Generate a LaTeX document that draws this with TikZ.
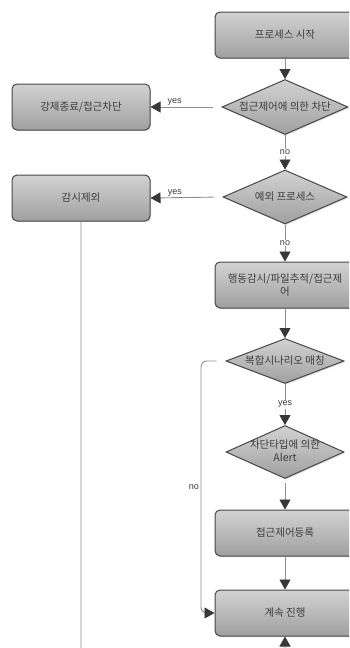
\documentclass[tikz,border=0pt]{standalone}
\usepackage{fontspec}
\setmainfont{Liberation Sans}
\newfontfamily\kr{Noto Sans CJK KR}
\usetikzlibrary{arrows.meta,shapes.geometric,shadows}
\definecolor{Edge}{HTML}{474747}
\definecolor{BoxTop}{HTML}{D2D2D2}
\definecolor{BoxBottom}{HTML}{A0A0A0}
\definecolor{Wire}{HTML}{8E8E8E}
\definecolor{Tip}{HTML}{383838}
\definecolor{Label}{HTML}{3C3C3C}
\tikzset{
  stepbox/.style={rectangle, rounded corners=5pt, draw=Edge, line width=1pt,
    top color=BoxTop, bottom color=BoxBottom, minimum width=140pt,
    minimum height=46pt, inner sep=0pt, align=center, text=Label,
    font=\kr\fontsize{10.5}{13}\selectfont,
    drop shadow={opacity=0.25, shadow xshift=1.2pt, shadow yshift=-1.2pt}},
  test/.style={diamond, draw=Edge, line width=1pt, top color=BoxTop,
    bottom color=BoxBottom, inner sep=0pt, align=center, text=Label,
    font=\kr\fontsize{10.5}{13}\selectfont,
    drop shadow={opacity=0.25, shadow xshift=1.2pt, shadow yshift=-1.2pt}},
  wire/.style={draw=Wire, line width=0.9pt,
    -{Triangle[length=10pt,width=11pt,color=Tip]}},
  flag/.style={font=\fontsize{9}{10}\selectfont, text=Label, inner sep=1pt},
}

\begin{document}
\begin{tikzpicture}[x=1pt,y=-1pt]
  \useasboundingbox[fill=white] (0,0) rectangle (349,648);
  \clip (0,0) rectangle (349,648);

  % main column
  \node[stepbox] (start) at (285,35) {프로세스 시작};
  \node[test, minimum width=126pt, minimum height=55pt] (block) at (285,107)
    {\makebox[0pt]{접근제어에 의한 차단}};
  \node[test, minimum width=124pt, minimum height=54pt] (except) at (285,197)
    {\makebox[0pt]{예외 프로세스}};
  \node[stepbox] (watch) at (285,285)
    {\makebox[0pt]{행동감시/파일추적/접근제}\\어};
  \node[test, minimum width=118pt, minimum height=45pt] (match) at (285,361)
    {\makebox[0pt]{복합시나리오 매칭}};
  \node[test, minimum width=118pt, minimum height=53pt] (alert) at (285,452)
    {\makebox[0pt]{\begin{tabular}{@{}c@{}}차단타입에 의한\\Alert\end{tabular}}};
  \node[stepbox] (enroll) at (285,533) {접근제어등록};
  \node[stepbox] (proceed) at (285,613) {계속 진행};

  % left column
  \node[stepbox, minimum width=138pt] (kill) at (81,107) {강제종료/접근차단};
  \node[stepbox, minimum width=138pt] (skip) at (81,198) {감시제외};

  % connectors
  \draw[wire] (start) -- (block);
  \draw[wire, shorten <=9pt] (block.west) -- (kill.east)
    node[flag, pos=0.66, above] (yes1) {yes};
  \draw[wire] (block) -- (except)
    node[flag, midway, fill=white] (no1) {no};
  \draw[wire, shorten <=9pt] (except.west) -- (skip.east)
    node[flag, pos=0.66, above] (yes2) {yes};
  \draw[wire] (except) -- (watch)
    node[flag, midway, fill=white] (no2) {no};
  \draw[wire] (watch) -- (match);
  \draw[wire] (match) -- (alert)
    node[flag, midway, fill=white] (yes3) {yes};
  \draw[wire, shorten <=4pt] (alert) -- (enroll);
  \draw[wire] (enroll) -- (proceed);

  % loops back to the last step
  \coordinate (miss) at (201,361);
  \draw[wire, rounded corners=6pt, shorten <=9pt] (match.west) -- (miss)
    |- (proceed.west);
  \node[flag, anchor=east] (no3) at (200,487) {no};
  \coordinate (under) at (81,662);
  \draw[wire, rounded corners=6pt] (skip.south) -- (under) -| (proceed.south);
\end{tikzpicture}
\end{document}
